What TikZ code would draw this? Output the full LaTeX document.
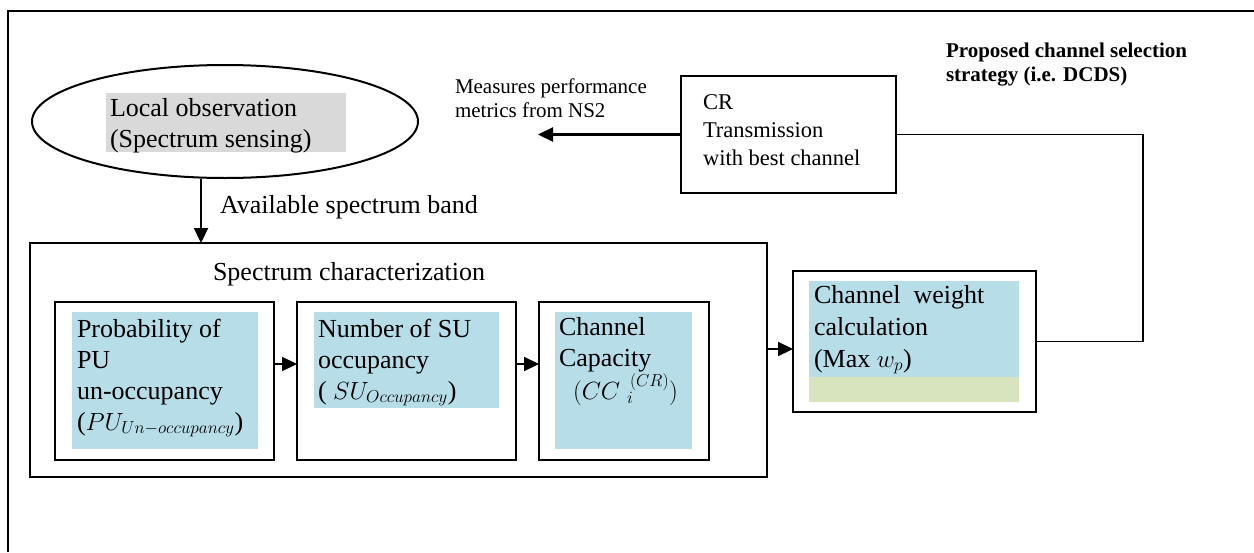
\documentclass[tikz,border=0pt]{standalone}
\usepackage{fontspec}
\setmainfont{Liberation Serif}
\usetikzlibrary{arrows.meta,shapes.geometric}
\definecolor{myblue}{HTML}{B7DDE8}
\definecolor{mygreen}{HTML}{D7E4BD}
\definecolor{mygrey}{HTML}{D9D9D9}
\newcommand\bigtxt{\fontsize{26}{31}\selectfont}
\newcommand\cwtxt{\fontsize{26}{32}\selectfont}
\newcommand\crtxt{\fontsize{22.5}{28}\selectfont}
\newcommand\smalltxt{\fontsize{21}{24}\selectfont}
\begin{document}
\begin{tikzpicture}[x=1pt,y=-1pt,
  boxnode/.style={draw, line width=2pt, rectangle, inner sep=0pt, outer sep=0pt},
  fillrect/.style={rectangle, inner sep=0pt, outer sep=0pt, draw=none},
  txt/.style={anchor=base west, align=left, inner sep=0pt, outer sep=0pt},
  arr/.style={-{Triangle[length=15pt,width=14pt]}, line width=2.2pt},
  conn/.style={line width=1.8pt}]
\useasboundingbox (0,0) rectangle (1254,552);
% outer frame
\draw[line width=2pt] (8,552) -- (8,11) -- (1254,11);

% ellipse
\node[ellipse, draw, line width=2pt, minimum width=386pt, minimum height=113pt, inner sep=0pt] (ell) at (225,121.5) {};
\node[fillrect, fill=mygrey, minimum width=240pt, minimum height=59pt] (grey) at (226,122.5) {};
\node[txt, font=\bigtxt] (ellt) at (110,147) {Local observation\\(Spectrum sensing)};

% spectrum characterization
\node[boxnode, minimum width=737pt, minimum height=234pt] (sc) at (398.5,360) {};
\node[txt, font=\bigtxt] (sct) at (213,280) {Spectrum characterization};
\node[txt, font=\bigtxt] (avail) at (220,213) {Available spectrum band};

% inner boxes
\node[boxnode, minimum width=219pt, minimum height=158pt] (b1) at (164.5,381) {};
\node[fillrect, fill=myblue, minimum width=186pt, minimum height=137pt] (f1) at (165,380.5) {};
\node[txt, font=\bigtxt] (t1) at (77,430) {Probability of\\PU\\un-occupancy\\($PU_{Un-occupancy}$)};

\node[boxnode, minimum width=219pt, minimum height=158pt] (b2) at (406.5,381) {};
\node[fillrect, fill=myblue, minimum width=185pt, minimum height=96pt] (f2) at (406.5,360) {};
\node[txt, font=\bigtxt] (t2) at (318,399) {Number of SU\\occupancy\\( $SU_{Occupancy}$)};

\node[boxnode, minimum width=170pt, minimum height=158pt] (b3) at (624,381) {};
\node[fillrect, fill=myblue, minimum width=137pt, minimum height=137pt] (f3) at (623.5,380.5) {};
\node[txt, font=\bigtxt] (t3) at (559,399) {Channel\\Capacity\\\hspace*{14pt}$(CC\;{}_{i}^{\,(CR)})$};

% channel weight
\node[boxnode, minimum width=243pt, minimum height=141pt] (cw) at (914.5,341.5) {};
\node[fillrect, fill=myblue, minimum width=210pt, minimum height=96pt] (f4) at (914,329) {};
\node[fillrect, fill=mygreen, minimum width=210pt, minimum height=25pt] (g4) at (914,389.5) {};
\node[txt, font=\cwtxt] (t4) at (814,367) {Channel\ \ weight\\calculation\\(Max $w_p$)};

% CR transmission
\node[boxnode, line width=1.8pt, minimum width=215pt, minimum height=117pt] (cr) at (788.5,134.5) {};
\node[txt, font=\crtxt] (crt) at (703,165) {CR\\Transmission\\with best channel};

% small labels
\node[txt, font=\smalltxt] (meas) at (455,117) {Measures performance\\metrics from NS2};
\node[txt, font=\smalltxt\bfseries] (prop) at (946,81) {Proposed channel selection\\strategy (i.e. DCDS)};

% connectors
\coordinate (mend) at (538,134.5);
\coordinate (xline) at (1143,0);
\draw[arr] ([xshift=-24pt]ell.south) -- ([xshift=-24pt]ell.south |- sc.north);
\draw[arr] (b1.east |- 0,364) -- (b2.west |- 0,364);
\draw[arr] (b2.east |- 0,364) -- (b3.west |- 0,364);
\draw[arr] (sc.east |- 0,349) -- (cw.west |- 0,349);
\draw[arr] (cr.west) -- (mend);
\draw[conn] (cw.east) -- (cw.east -| xline) |- (cr.east);
\end{tikzpicture}
\end{document}
